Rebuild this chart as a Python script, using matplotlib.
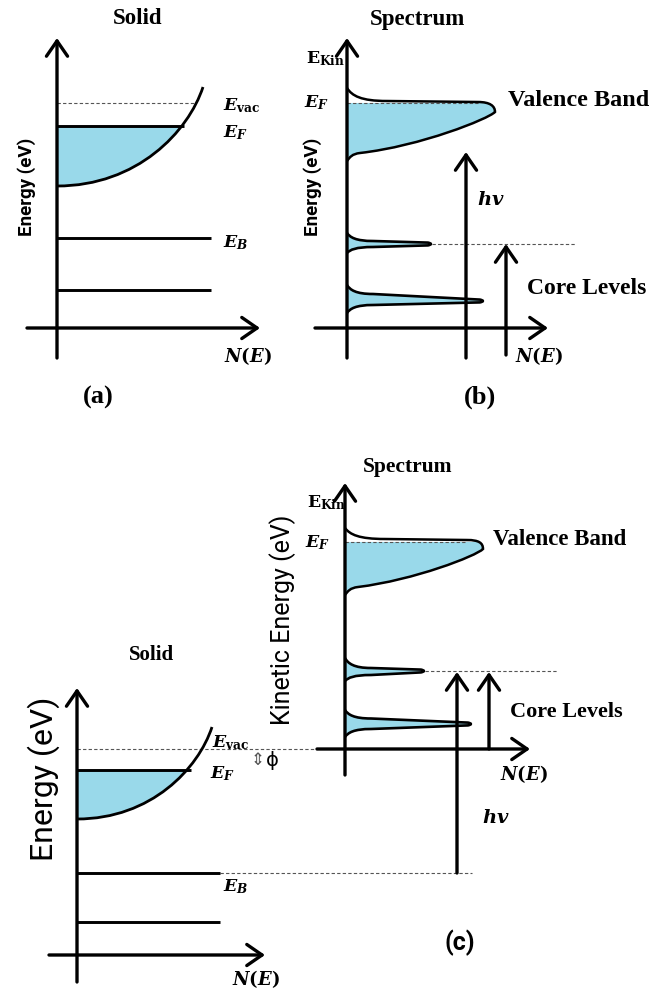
import matplotlib.pyplot as plt
from matplotlib.path import Path
from matplotlib.patches import PathPatch, Rectangle

plt.rcParams['mathtext.fontset'] = 'custom'
plt.rcParams['mathtext.it'] = 'DejaVu Serif:italic:bold'
plt.rcParams['mathtext.rm'] = 'DejaVu Serif:bold'
plt.rcParams['mathtext.bf'] = 'DejaVu Serif:bold'

BLUE = '#99d9ea'
SERIF = 'Liberation Serif'
SANS = ['Roboto', 'DejaVu Sans']

# ---- values read off the picture (pixels, y measured from the top) ----
# solid (a)
a_vac, a_ef = 103, 126
a_core = [238, 290]
a_band = [(57, 186), (203, 87)]      # band bottom, curve top
a_ef_x = 184
# solid (c)
c_vac, c_ef = 749, 770
c_core = [873, 922]
c_band = [(77, 819), (212, 727)]
c_ef_x = 191

# spectrum (b): valence band  [y start, y flat, x flat end, tip x, tip y, low x, low y, y end, dashed y]
b_vb = [88, 101, 478, 495, 112, 360, 153, 161, 103]
# core peaks [y start, upper y, tip y, lower y, y end, tip x]
b_cores = [[233, 241, 244, 247, 253, 432],
           [285, 294, 301, 305, 313, 484]]
# spectrum (c)
c_vb = [528, 539, 467, 483, 549, 358, 587, 595, 542]
c_cores = [[658, 668, 671, 675, 681, 425],
           [710, 718.5, 724, 729, 737, 472]]


fig = plt.figure(figsize=(6.51, 9.92), dpi=100)
ax = fig.add_axes([0, 0, 1, 1])
ax.set_xlim(0, 651)
ax.set_ylim(992, 0)
ax.axis('off')


def arrow(x0, y0, x1, y1, lw=2.4):
    ax.annotate('', xy=(x1, y1), xytext=(x0, y0),
                arrowprops=dict(arrowstyle='->,head_length=0.55,head_width=0.38',
                                lw=lw, color='k', shrinkA=0, shrinkB=0,
                                mutation_scale=20), zorder=5)


def dashed(x0, x1, y):
    ax.plot([x0, x1], [y, y], color='#555555', lw=0.8, ls=(0, (3, 2)), zorder=2)


def level(x0, x1, y):
    ax.plot([x0, x1], [y, y], color='k', lw=2.1, solid_capstyle='butt', zorder=3)


def band(p0, p1, ef):
    (x0, y0), (x1, y1) = p0, p1
    verts = [(x0, y0), (x0 + 0.55 * (x1 - x0), y0),
             (x0 + 0.9 * (x1 - x0), y0 + 0.55 * (y1 - y0)), (x1, y1)]
    codes = [Path.MOVETO, Path.CURVE4, Path.CURVE4, Path.CURVE4]
    ax.add_patch(PathPatch(Path(verts, codes), fc='none', ec='k', lw=2.0, zorder=3))
    fill = PathPatch(Path(verts + [(x0, y1), (x0, y0)], codes + [Path.LINETO, Path.CLOSEPOLY]),
                     fc=BLUE, ec='none', zorder=1)
    ax.add_patch(fill)
    clip = Rectangle((x0, ef), x1 - x0 + 5, y0 - ef + 3, transform=ax.transData)
    fill.set_clip_path(clip)


def valence(xa, p):
    y0, yf, xf, xt, yt, xl, yl, y1, yd = p
    verts = [(xa, y0),
             (xa + 5, y0 + 0.6 * (yf - y0)), (xa + 14, yf), (xa + 40, yf),
             (xf, yf + 1),
             (xf + 12, yf + 1), (xt, yt - 6), (xt, yt),
             (xt - 7, yt + 7), (xl + 0.45 * (xt - xl), yl - 7), (xl, yl),
             (xl - 8, yl + 1), (xa + 3, y1 - 4), (xa, y1)]
    codes = [Path.MOVETO] + [Path.CURVE4] * 3 + [Path.LINETO] + [Path.CURVE4] * 9
    fill = PathPatch(Path(verts + [(xa, y0)], codes + [Path.CLOSEPOLY]),
                     fc=BLUE, ec='none', zorder=1)
    ax.add_patch(fill)
    fill.set_clip_path(Rectangle((xa, yd), xt - xa + 5, y1 - yd + 3, transform=ax.transData))
    ax.add_patch(PathPatch(Path(verts, codes), fc='none', ec='k', lw=1.8, zorder=3))
    dashed(xa, xf, yd)


def core(xa, p):
    y0, yu, yt, yd, y1, xt = p
    w = 1.4
    verts = [(xa, y0),
             (xa + 3, y0 + 0.55 * (yu - y0)), (xa + 9, yu), (xa + 26, yu),
             (xt - 4, yt - w),
             (xt + 2, yt), (xt - 4, yt + w),
             (xa + 26, yd),
             (xa + 9, yd), (xa + 3, y1 - 0.55 * (y1 - yd)), (xa, y1)]
    codes = ([Path.MOVETO] + [Path.CURVE4] * 3 + [Path.LINETO] + [Path.CURVE3] * 2
             + [Path.LINETO] + [Path.CURVE4] * 3)
    ax.add_patch(PathPatch(Path(verts + [(xa, y0)], codes + [Path.CLOSEPOLY]),
                           fc=BLUE, ec='none', zorder=1))
    ax.add_patch(PathPatch(Path(verts, codes), fc='none', ec='k', lw=1.9,
                           joinstyle='round', zorder=3))


def serif(x, y, s, size, ha='left', va='baseline'):
    ax.text(x, y, s, fontsize=size, family=SERIF, weight='bold', ha=ha, va=va)


def math(x, y, s, size=12.5):
    ax.text(x, y, s, fontsize=size, ha='left', va='baseline')


# ================= (a) solid =================
arrow(57, 358, 57, 38)
arrow(27, 328, 260, 328)
band(a_band[0], a_band[1], a_ef)
dashed(57, 195, a_vac)
level(57, a_ef_x, a_ef)
for y in a_core:
    level(57, 211, y)
serif(138, 18, 'Solid', 16.5, ha='center', va='center')
ax.text(27, 187, 'Energy (eV)', rotation=90, fontsize=13.5, family=SANS, weight='bold',
        ha='center', va='center')
math(223, 110, r'$E_{\mathrm{vac}}$')
math(223, 137, r'$E_F$')
math(223, 247, r'$E_B$')
math(224, 362, r'$N(E)$', 13)
serif(98, 397, '(a)', 19, ha='center', va='center')

# ================= (b) spectrum =================
arrow(347, 358, 347, 38)
arrow(315, 328, 548, 328)
valence(347, b_vb)
for p in b_cores:
    core(347, p)
dashed(b_cores[0][5], 575, b_cores[0][2])
arrow(466, 358, 466, 152)
arrow(506, 355, 506, 244)
serif(417, 20, 'Spectrum', 16.5, ha='center', va='center')
ax.text(313, 187, 'Energy (eV)', rotation=90, fontsize=13.5, family=SANS, weight='bold',
        ha='center', va='center')
math(306, 63, r'$\mathrm{E}_{\mathrm{Kin}}$')
math(304, 107, r'$E_F$')
serif(508, 106, 'Valence Band', 17.5)
serif(527, 294, 'Core Levels', 17)
math(477, 205, r'$hv$', 14)
math(515, 362, r'$N(E)$', 13)
serif(480, 397, '(b)', 19, ha='center', va='center')

# ================= (c) solid =================
arrow(77, 982, 77, 688)
arrow(49, 955, 265, 955)
band(c_band[0], c_band[1], c_ef)
dashed(77, 317, c_vac)
level(77, c_ef_x, c_ef)
for y in c_core:
    level(77, 220, y)
dashed(220, 472, c_core[0])
serif(152, 655, 'Solid', 15, ha='center', va='center')
ax.text(44, 779, 'Energy (eV)', rotation=90, fontsize=23, family=SANS,
        ha='center', va='center')
math(212, 747, r'$E_{\mathrm{vac}}$')
math(210, 778, r'$E_F$')
math(223, 891, r'$E_B$')
math(232, 985, r'$N(E)$', 13)
ax.text(251, 760, '\u21d5', fontsize=12, family='DejaVu Sans', color='#555555',
        ha='left', va='center')
ax.text(266, 760, '\u03d5', fontsize=14, family='DejaVu Sans', ha='left', va='center')

# ================= (c) spectrum =================
arrow(345, 775, 345, 483)
arrow(317, 749, 530, 749)
valence(345, c_vb)
for p in c_cores:
    core(345, p)
dashed(c_cores[0][5], 557, c_cores[0][2])
arrow(457, 873, 457, 672)
arrow(489, 749, 489, 672)
serif(408, 467, 'Spectrum', 15.5, ha='center', va='center')
ax.text(283, 620, 'Kinetic Energy (eV)', rotation=90, fontsize=18, family=SANS,
        ha='center', va='center')
math(307, 507, r'$\mathrm{E}_{\mathrm{Kin}}$')
math(305, 547, r'$E_F$')
serif(493, 545, 'Valence Band', 16.5)
serif(510, 717, 'Core Levels', 16)
math(482, 823, r'$hv$', 14)
math(500, 780, r'$N(E)$', 13)
ax.text(460, 943, '(c)', fontsize=18, family=SANS, weight='bold', ha='center', va='center')

fig.savefig('out.png', dpi=100)
